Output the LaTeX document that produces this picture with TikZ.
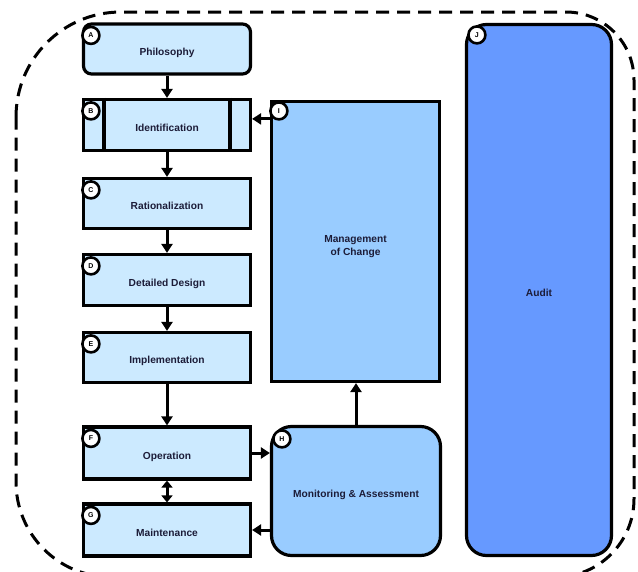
\documentclass[tikz,border=0pt]{standalone}
\usepackage{fontspec}
\setmainfont{Liberation Sans}
\usetikzlibrary{arrows.meta,calc}
\definecolor{pale}{RGB}{204,234,255}
\definecolor{midblue}{RGB}{153,204,255}
\definecolor{deepblue}{RGB}{102,153,255}
\definecolor{txt}{RGB}{28,28,56}
\begin{document}
\begin{tikzpicture}[x=1pt,y=-1pt,
  stagebox/.style={draw, line width=3.2pt, fill=pale, minimum width=167pt, minimum height=50pt, inner sep=0pt,
    font=\fontsize{10.2}{12}\selectfont\bfseries, text=txt, text height=12pt, text depth=0pt},
  bigbox/.style={draw, line width=3.2pt, inner sep=0pt, font=\fontsize{10.2}{13.5}\selectfont\bfseries, text=txt, align=center},
  tag/.style={draw, circle, line width=2.6pt, fill=white, minimum size=17pt, inner sep=0pt,
    font=\fontsize{7}{7}\selectfont\bfseries},
  arr/.style={line width=3pt, -{Triangle[length=9pt,width=11pt]}},
  darr/.style={line width=3pt, {Triangle[length=7pt,width=11pt]}-{Triangle[length=7pt,width=11pt]}},
  outline/.style={line width=3pt, dash pattern=on 13pt off 8pt}
]
\useasboundingbox (0,0) rectangle (638,571);
\clip (0,0) rectangle (638,571);
\fill[white] (0,0) rectangle (638,571);

% dashed outline
\draw[outline] (16,117) arc[start angle=180,end angle=270,radius=105] -- (566,12)
  arc[start angle=270,end angle=360,radius=68] -- (634,499)
  arc[start angle=0,end angle=90,radius=78] -- (111,577)
  arc[start angle=90,end angle=180,radius=95] -- cycle;

% stage boxes
\node[stagebox, rounded corners=8pt] (A) at (167,49) {Philosophy};
\node[stagebox, minimum height=51pt] (B) at (167,125) {Identification};
\draw[line width=3.2pt] (B.north west -| 104,0) -- (B.south west -| 104,0);
\draw[line width=3.2pt] (B.north west -| 230,0) -- (B.south west -| 230,0);
\node[stagebox] (C) at (167,203.5) {Rationalization};
\node[stagebox, minimum height=51pt] (D) at (167,280) {Detailed Design};
\node[stagebox] (E) at (167,357.5) {Implementation};
\node[stagebox, minimum height=52pt] (F) at (167,453) {Operation};
\node[stagebox, minimum height=52pt] (G) at (167,530) {Maintenance};

% right boxes
\node[bigbox, fill=midblue, minimum width=168pt, minimum height=280pt, text height=28pt, text depth=0pt] (I) at (355.5,241.5) {Management\\of Change};
\node[bigbox, fill=midblue, rounded corners=20pt, minimum width=169pt, minimum height=129pt, text height=12pt, text depth=0pt] (H) at (356,491) {Monitoring \& Assessment};
\node[bigbox, fill=deepblue, rounded corners=20pt, minimum width=145pt, minimum height=531pt, text height=12pt, text depth=0pt] (J) at (539,290) {Audit};

% tags
\node[tag] (tA) at ($(A.north west)+(9,13)$) {A};
\node[tag] (tB) at ($(B.north west)+(9,13)$) {B};
\node[tag] (tC) at ($(C.north west)+(9,13)$) {C};
\node[tag] (tD) at ($(D.north west)+(9,13)$) {D};
\node[tag] (tE) at ($(E.north west)+(9,13)$) {E};
\node[tag] (tF) at ($(F.north west)+(9,13)$) {F};
\node[tag] (tG) at ($(G.north west)+(9,13)$) {G};
\node[tag] (tH) at ($(H.north west)+(12,14)$) {H};
\node[tag] (tI) at ($(I.north west)+(9,11)$) {I};
\node[tag] (tJ) at ($(J.north west)+(12,12)$) {J};

% connectors
\draw[arr] (A) -- (B);
\draw[arr] (B) -- (C);
\draw[arr] (C) -- (D);
\draw[arr] (D) -- (E);
\draw[arr] (E) -- (F);
\draw[darr] (F) -- (G);
\draw[arr] (F.east) -- (F.east -| H.west);
\draw[arr] (G.east -| H.west) -- (G.east);
\draw[arr] (H.north) -- (H.north |- I.south);
\draw[arr] ([yshift=-19pt]I.north west) -- ([yshift=-19pt]I.north west -| B.east);
\end{tikzpicture}
\end{document}
